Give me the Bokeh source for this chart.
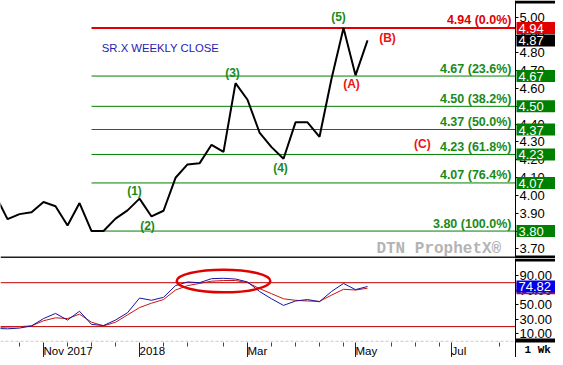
import pandas as pd
from bokeh.plotting import figure
from bokeh.layouts import column
from bokeh.models import (Range1d, ColumnDataSource, FixedTicker, Label, Span, BoxAnnotation,
                          CustomJSTickFormatter, NumeralTickFormatter)
from bokeh.core.properties import value
from bokeh.embed import file_html
from bokeh.resources import INLINE

# ---------------- data ----------------
week_dates = ["2017-10-09", "2017-10-16", "2017-10-23", "2017-10-30",
              "2017-11-06", "2017-11-13", "2017-11-20", "2017-11-27",
              "2017-12-04", "2017-12-11", "2017-12-18", "2017-12-25",
              "2018-01-01", "2018-01-08", "2018-01-15", "2018-01-22", "2018-01-29",
              "2018-02-05", "2018-02-12", "2018-02-19", "2018-02-26",
              "2018-03-05", "2018-03-12", "2018-03-19", "2018-03-26",
              "2018-04-02", "2018-04-09", "2018-04-16", "2018-04-23", "2018-04-30",
              "2018-05-07", "2018-05-14"]
weekly_close = [4.00, 3.867, 3.895, 3.905,
                3.963, 3.939, 3.831, 3.957,
                3.80, 3.80, 3.87, 3.916,
                3.982, 3.882, 3.914, 4.099, 4.174,
                4.18, 4.284, 4.244, 4.63,
                4.537, 4.353, 4.271, 4.206,
                4.41, 4.41, 4.329, 4.655, 4.94,
                4.674, 4.87]
stoch_k = [17.5, 17, 18, 21,
           31, 38, 29, 41,
           23, 21.5, 29, 39,
           59, 56, 60, 76, 81,
           80, 85.5, 86, 85,
           81, 68, 58, 49,
           55, 57, 54, 68, 79,
           70.5, 74.82]
stoch_d = [19, 19.5, 20, 21,
           28, 32, 31, 37,
           26, 21, 26, 36,
           46, 52, 57, 70, 76,
           79, 82, 83, 83,
           80, 72, 65, 58,
           56, 55, 54.5, 63, 71,
           70, 72.5]

fib_levels = [4.94, 4.67, 4.50, 4.37, 4.23, 4.07, 3.80]
fib_pcts = ["0.0%", "23.6%", "38.2%", "50.0%", "61.8%", "76.4%", "100.0%"]
fib_start = "2017-12-04"

wave_labels = ["(1)", "(2)", "(3)", "(4)", "(5)", "(A)", "(B)", "(C)"]
wave_dates = ["2018-01-01", "2018-01-08", "2018-02-26", "2018-03-26",
              "2018-04-30", "2018-05-07", "2018-05-14", "2018-06-15"]
wave_prices = [3.982, 3.882, 4.63, 4.206, 4.94, 4.674, 4.87, 4.29]

x_tick_dates = ["2017-11-06", "2018-01-01", "2018-03-05", "2018-05-07", "2018-07-02"]
x_tick_labels = ["Nov 2017", "2018", "Mar", "May", "Jul"]
x_minor_dates = ["2017-10-23", "2017-11-20", "2017-12-04", "2017-12-18", "2018-01-15",
                 "2018-01-29", "2018-02-19", "2018-03-19", "2018-04-02", "2018-04-16",
                 "2018-04-30", "2018-05-28", "2018-06-11", "2018-06-25", "2018-07-30"]
price_ticks = [3.7, 3.8, 3.9, 4.0, 4.1, 4.2, 4.3, 4.4, 4.5, 4.6, 4.7, 4.8, 4.9, 5.0]
osc_ticks = [10, 30, 50, 70, 90]
osc_bands = [80, 20]

# ---------------- layout constants ----------------
def ms(s):
    return pd.Timestamp(s).value / 1e6

DAY = 86400000.0
W = 555
PLOT_W = 515                       # price area width; axis sits at this x
x_start = ms("2017-11-06") - 25.1 * DAY
AX = ms("2017-11-06") + 275.33 * DAY   # x position of the right axis
x_full_end = x_start + (AX - x_start) * W / PLOT_W
xr = Range1d(x_start, x_full_end)

FONT = "Liberation Sans"
GREEN_LINE = "#008000"
GREEN_TXT = "#1a8a1a"
RED = "#e00000"

MAIN_H = 258
Y0, Y1 = 3.646, 5.094
PPU = MAIN_H / (Y1 - Y0)
OSC_H = 99
OPPU = 0.732
OY1 = 80 + 24.2 / OPPU
OY0 = 80 - (OSC_H - 24.2) / OPPU
OSC_AXIS = -1.7

dates = pd.to_datetime(week_dates)

def style_yaxis(ax, ticks):
    ax.ticker = FixedTicker(ticks=ticks)
    ax.formatter = NumeralTickFormatter(format="0.00")
    ax.fixed_location = AX
    ax.major_label_text_font = FONT
    ax.major_label_text_font_size = "13px"
    ax.major_label_text_color = "black"
    ax.major_tick_out = 3
    ax.major_tick_in = 0
    ax.minor_tick_out = 0
    ax.minor_tick_in = 0
    ax.major_label_standoff = 1
    ax.axis_line_color = "black"

def tag(fig, y, text, color, right_pad):
    fig.add_layout(Label(x=AX, y=y, x_offset=1, text=text, text_color="white",
                         text_font=FONT, text_font_size="13px",
                         text_baseline="middle", text_align="left",
                         background_fill_color=color,
                         padding=dict(left=2, right=right_pad, top=2, bottom=1)))

# ---------------- main price panel ----------------
p = figure(width=W, height=MAIN_H, x_axis_type="datetime", x_axis_location=None,
           y_axis_location="right", x_range=xr, y_range=Range1d(Y0, Y1),
           output_backend="svg", toolbar_location=None,
           min_border_left=0, min_border_top=0, min_border_bottom=0, min_border_right=0)
p.outline_line_color = None
p.grid.visible = False
style_yaxis(p.yaxis[0], price_ticks)

fib_src = ColumnDataSource(dict(
    x0=[ms(fib_start)] * len(fib_levels), x1=[AX] * len(fib_levels),
    y=fib_levels,
    color=[RED] + [GREEN_LINE] * (len(fib_levels) - 1),
    width=[2] + [1] * (len(fib_levels) - 1),
    tcolor=[RED] + [GREEN_TXT] * (len(fib_levels) - 1),
    text=[f"{v:.2f} ({pc})" for v, pc in zip(fib_levels, fib_pcts)],
))
p.segment(x0="x0", y0="y", x1="x1", y1="y", line_color="color", line_width="width", source=fib_src)
p.text(x="x1", y="y", text="text", text_color="tcolor", source=fib_src,
       text_align="right", text_baseline="middle", x_offset=-4, y_offset=-7.5,
       text_font=value(FONT), text_font_size="12.5px", text_font_style="bold")

p.line(dates, weekly_close, line_color="black", line_width=2)

wave_colors = [GREEN_TXT] * 5 + ["#ee1111"] * 3
wave_xoff = [-5, -4, -3, -3, -5, -4, 20, 0]
wave_yoff = [-8, 10, -10, 9, -11, 9, -2, 0]
wsrc = ColumnDataSource(dict(x=pd.to_datetime(wave_dates), y=wave_prices, text=wave_labels,
                             color=wave_colors, xo=wave_xoff, yo=wave_yoff))
p.text(x="x", y="y", text="text", text_color="color", x_offset="xo", y_offset="yo",
       text_align="center", text_baseline="middle", source=wsrc,
       text_font=value(FONT), text_font_size="12px", text_font_style="bold")

p.add_layout(Label(x=ms("2017-12-10"), y=4.826, text="SR.X WEEKLY CLOSE", text_color="#2323b4",
                   text_font=FONT, text_font_size="11.3px", text_baseline="middle", text_align="left"))
p.add_layout(Label(x=ms("2018-07-31"), y=3.702, text="DTN ProphetX\u00ae", text_color="#b4b4b4",
                   text_font="Liberation Mono", text_font_size="16px", text_font_style="bold",
                   text_baseline="middle", text_align="right"))

# separator and axis-area bars
p.add_layout(Span(location=Y0 + 1.0 / PPU, dimension="width", line_color="#202020", line_width=2))
p.add_layout(BoxAnnotation(left=AX, right=x_full_end, bottom=Y1 - 3 / PPU, top=Y1,
                           fill_color="black", fill_alpha=1, line_color=None))
p.add_layout(BoxAnnotation(left=AX, right=x_full_end, bottom=Y0, top=Y0 + 3 / PPU,
                           fill_color="black", fill_alpha=1, line_color=None))

# price tags on the axis
for i in [1, 2, 3, 4, 5, 6]:
    tag(p, fib_levels[i], f"{fib_levels[i]:.2f}", "#008000", 15)
tag(p, fib_levels[0], f"{fib_levels[0]:.2f}", RED, 15)
tag(p, weekly_close[-1], f"{weekly_close[-1]:.2f}", "black", 15)

# ---------------- oscillator panel ----------------
p2 = figure(width=W, height=OSC_H, x_axis_type="datetime", x_range=xr,
            y_range=Range1d(OY0, OY1), y_axis_location="right",
            output_backend="svg", toolbar_location=None,
            min_border_left=0, min_border_top=0, min_border_bottom=0, min_border_right=0)
p2.outline_line_color = None
p2.grid.visible = False
style_yaxis(p2.yaxis[0], osc_ticks)

band_src = ColumnDataSource(dict(x0=[x_start] * 2, x1=[AX] * 2, y=osc_bands))
p2.segment(x0="x0", y0="y", x1="x1", y1="y", source=band_src, line_color="#c00000", line_width=1)
p2.segment(x0=[x_start], y0=[0], x1=[AX], y1=[0], line_color="#c8c8c8", line_width=1, line_dash="3 2")
p2.line(dates, stoch_d, line_color="#c81414", line_width=1)
p2.line(dates, stoch_k, line_color="#1414a0", line_width=1)
p2.ellipse(x=[ms("2018-02-19")], y=[82.3], width=7.8 * 7 * DAY, height=31,
           fill_color=None, line_color="#e00000", line_width=2.5)

p2.add_layout(BoxAnnotation(left=AX, right=x_full_end, bottom=OY1 - 3 / OPPU, top=OY1,
                            fill_color="black", fill_alpha=1, line_color=None))
p2.add_layout(BoxAnnotation(left=AX, right=x_full_end, bottom=OSC_AXIS, top=OSC_AXIS + 4 / OPPU,
                            fill_color="black", fill_alpha=1, line_color=None))

xa = p2.xaxis[0]
xa.fixed_location = OSC_AXIS
xa.ticker = FixedTicker(ticks=[ms(d) for d in x_tick_dates],
                        minor_ticks=[ms(d) for d in x_minor_dates])
xa.formatter = CustomJSTickFormatter(
    args=dict(tk=[ms(d) for d in x_tick_dates], lb=x_tick_labels),
    code="""
    let best = -1, bd = 1e20;
    for (let i = 0; i < tk.length; i++) { const d = Math.abs(tk[i] - tick); if (d < bd) { bd = d; best = i; } }
    return bd < 86400000 ? lb[best] : '';
    """)
xa.major_label_text_font = FONT
xa.major_label_text_font_size = "11.5px"
xa.major_label_text_color = "black"
xa.major_label_orientation = -0.0001
xa.major_tick_out = 16
xa.major_tick_in = 0
xa.major_tick_line_color = "#222222"
xa.minor_tick_out = 4
xa.minor_tick_in = 0
xa.minor_tick_line_color = "#444444"
xa.major_label_standoff = -8
xa.axis_line_color = None

tag(p2, stoch_d[-1], f"{stoch_d[-1]:.2f}", "#a01040", 4)
tag(p2, stoch_k[-1], f"{stoch_k[-1]:.2f}", "#0000ee", 4)

p2.add_layout(Label(x=AX, y=OSC_AXIS, x_offset=9, y_offset=-7, text="1 Wk",
                    text_color="black", text_font="Liberation Mono", text_font_size="11px",
                    text_font_style="bold", text_baseline="middle", text_align="left"))

layout = column(p, p2, spacing=0)
open("out.html", "w").write(file_html(layout, INLINE))
